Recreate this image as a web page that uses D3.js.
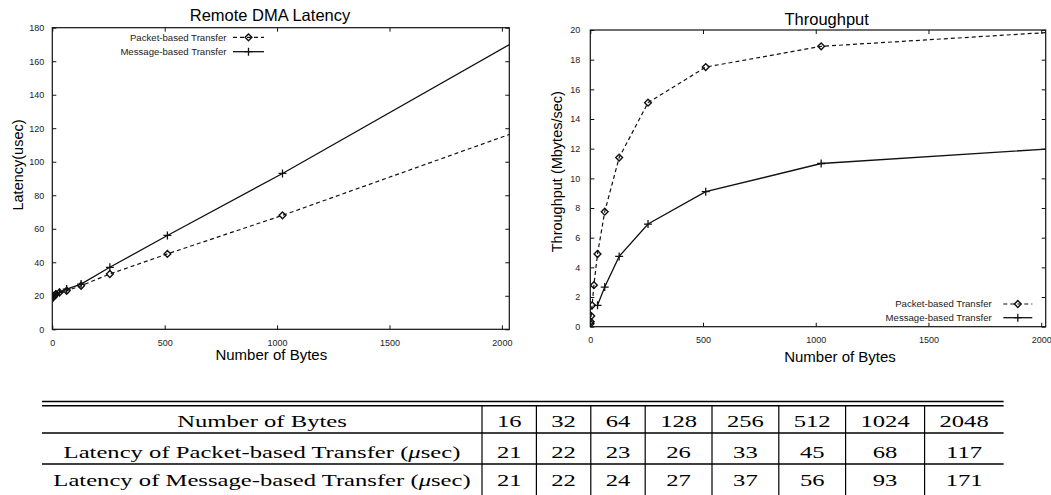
<!DOCTYPE html>
<html><head><meta charset="utf-8">
<script src="https://cdn.jsdelivr.net/npm/d3@7"></script>
<style>
html,body{margin:0;padding:0;background:#fff;}
svg{display:block;}
</style></head>
<body>
<svg id="chart" width="1051" height="495"></svg>
<script>
// ---------- DATA ----------
const seriesNames = ["Packet-based Transfer", "Message-based Transfer"];
const latencyBytes = [4, 8, 16, 32, 64, 128, 256, 512, 1024, 2048];
const latencyPacket = [19, 20, 21, 22, 23, 26, 33, 45, 68, 117];
const latencyMessage = [19, 20, 21, 22, 24, 27, 37, 56, 93, 171];
const thrPacketBytes = [1, 2, 4, 8, 16, 32, 64, 128, 256, 512, 1024, 2048];
const thrPacket = [0.2, 0.34, 0.72, 1.44, 2.8, 4.9, 7.75, 11.4, 15.1, 17.5, 18.9, 19.85];
const thrMessageBytes = [32, 64, 128, 256, 512, 1024, 2048];
const thrMessage = [1.44, 2.67, 4.74, 6.92, 9.1, 11.0, 12.0];
const latencyYTicks = [0, 20, 40, 60, 80, 100, 120, 140, 160, 180];
const thrYTicks = [0, 2, 4, 6, 8, 10, 12, 14, 16, 18, 20];
const xTicks = [0, 500, 1000, 1500, 2000];
const tableHeader = "Number of Bytes";
const tableBytes = [16, 32, 64, 128, 256, 512, 1024, 2048];
const tableRowLabels = ["Latency of Packet-based Transfer (", "Latency of Message-based Transfer ("];
const tablePacket = [21, 22, 23, 26, 33, 45, 68, 117];
const tableMessage = [21, 22, 24, 27, 37, 56, 93, 171];

// ---------- DRAW ----------
const svg = d3.select("#chart");
svg.append("rect").attr("width", 1051).attr("height", 495).attr("fill", "#fff");
const SANS = "'Liberation Sans', Arial, Helvetica, sans-serif";
const SERIF = "'Liberation Serif', 'Times New Roman', Times, serif";
const ink = "#111";

function diamond(g, x, y) {
  const r = 3.4;
  g.append("path").attr("d", `M${x},${y - r}L${x + r},${y}L${x},${y + r}L${x - r},${y}Z`)
    .attr("fill", "none").attr("stroke", ink).attr("stroke-width", 1.4);
}
function cross(g, x, y) {
  const r = 4;
  g.append("path").attr("d", `M${x - r},${y}H${x + r}M${x},${y - r}V${y + r}`)
    .attr("fill", "none").attr("stroke", ink).attr("stroke-width", 1.3);
}

function panel(opt) {
  const g = svg.append("g");
  const x = d3.scaleLinear().domain([0, opt.xMax]).range([opt.left, opt.right]);
  const y = d3.scaleLinear().domain([0, opt.yMax]).range([opt.bottom, opt.top]);
  const id = "clip" + opt.key;
  svg.append("clipPath").attr("id", id).append("rect")
    .attr("x", opt.left).attr("y", opt.top)
    .attr("width", opt.right - opt.left).attr("height", opt.bottom - opt.top);

  const tickFmt = d3.format("d");
  const axB = g.append("g").attr("transform", `translate(0,${opt.bottom})`)
    .call(d3.axisBottom(x).tickValues(xTicks).tickSize(-4).tickPadding(10).tickFormat(tickFmt));
  const axT = g.append("g").attr("transform", `translate(0,${opt.top})`)
    .call(d3.axisTop(x).tickValues(xTicks).tickSize(-4).tickFormat(""));
  const axL = g.append("g").attr("transform", `translate(${opt.left},0)`)
    .call(d3.axisLeft(y).tickValues(opt.yTicks).tickSize(-4).tickPadding(opt.yPad).tickFormat(tickFmt));
  const axR = g.append("g").attr("transform", `translate(${opt.right},0)`)
    .call(d3.axisRight(y).tickValues(opt.yTicks).tickSize(-4).tickFormat(""));
  [axB, axT, axL, axR].forEach(a => {
    a.select(".domain").remove();
    a.selectAll("line").attr("stroke", ink).attr("stroke-width", 1);
    a.selectAll("text").attr("font-family", SANS).attr("font-size", 9).attr("fill", "#222");
  });
  g.append("rect").attr("x", opt.left).attr("y", opt.top)
    .attr("width", opt.right - opt.left).attr("height", opt.bottom - opt.top)
    .attr("fill", "none").attr("stroke", ink).attr("stroke-width", 1.2);

  // title and labels
  g.append("text").attr("x", opt.titleX).attr("y", opt.titleY).attr("text-anchor", "middle")
    .attr("font-family", SANS).attr("font-size", 16.5).attr("fill", "#000").text(opt.title);
  g.append("text").attr("x", opt.xLabelX).attr("y", opt.xLabelY).attr("text-anchor", "middle")
    .attr("font-family", SANS).attr("font-size", 15).attr("fill", "#000").text("Number of Bytes");
  g.append("text").attr("transform", `translate(${opt.yLabelX},${opt.yLabelY}) rotate(-90)`)
    .attr("text-anchor", "middle").attr("dy", "0.35em")
    .attr("font-family", SANS).attr("font-size", 14.5).attr("fill", "#000").text(opt.yLabel);

  const plot = g.append("g").attr("clip-path", `url(#${id})`);
  const line = d3.line().x(d => x(d[0])).y(d => y(d[1]));
  const pk = opt.pBytes.map((b, i) => [b, opt.pVals[i]]);
  const ms = opt.mBytes.map((b, i) => [b, opt.mVals[i]]);
  plot.append("path").attr("d", line(pk)).attr("fill", "none").attr("stroke", ink)
    .attr("stroke-width", 1.2).attr("stroke-dasharray", "4,3");
  plot.append("path").attr("d", line(ms)).attr("fill", "none").attr("stroke", ink)
    .attr("stroke-width", 1.3);
  pk.forEach(d => { if (d[0] <= opt.xMax) diamond(plot, x(d[0]), y(d[1])); });
  ms.forEach(d => { if (d[0] <= opt.xMax) cross(plot, x(d[0]), y(d[1])); });

  // legend
  const lg = g.append("g");
  opt.legend.forEach((L, i) => {
    lg.append("text").attr("x", L.tx).attr("y", L.ty).attr("dy", "0.35em").attr("text-anchor", "end")
      .attr("font-family", SANS).attr("font-size", 9.6).attr("fill", "#222").text(seriesNames[i]);
    lg.append("line").attr("x1", L.x1).attr("x2", L.x2).attr("y1", L.ty).attr("y2", L.ty)
      .attr("stroke", ink).attr("stroke-width", i === 0 ? 1.2 : 1.3)
      .attr("stroke-dasharray", i === 0 ? "4,3" : null);
    if (i === 0) diamond(lg, (L.x1 + L.x2) / 2, L.ty); else cross(lg, (L.x1 + L.x2) / 2, L.ty);
  });
}

panel({
  key: "L", left: 52.3, right: 509.3, top: 27.7, bottom: 329.3, xMax: 2033, yMax: 180,
  yTicks: latencyYTicks, yPad: 8,
  title: "Remote DMA Latency", titleX: 270, titleY: 21,
  xLabelX: 271.3, xLabelY: 360, yLabel: "Latency(usec)", yLabelX: 17.5, yLabelY: 165,
  pBytes: latencyBytes, pVals: latencyPacket, mBytes: latencyBytes, mVals: latencyMessage,
  legend: [{ tx: 226.5, ty: 37.3, x1: 233, x2: 264 }, { tx: 226.5, ty: 51.7, x1: 233, x2: 264 }]
});
panel({
  key: "R", left: 590.3, right: 1045.7, top: 30, bottom: 326.7, xMax: 2020, yMax: 20,
  yTicks: thrYTicks, yPad: 10,
  title: "Throughput", titleX: 826.7, titleY: 25,
  xLabelX: 840, xLabelY: 361.5, yLabel: "Throughput (Mbytes/sec)", yLabelX: 556.7, yLabelY: 171.7,
  pBytes: thrPacketBytes, pVals: thrPacket, mBytes: thrMessageBytes, mVals: thrMessage,
  legend: [{ tx: 991.7, ty: 304, x1: 1003.3, x2: 1032.3 }, { tx: 991.7, ty: 317.7, x1: 1003.3, x2: 1032.3 }]
});

// ---------- TABLE ----------
const tb = svg.append("g");
const tLeft = 42, tRight = 1003.6, tLabelRight = 482;
const sx = 1.4, tFont = 17.6;
const colW = tableBytes.map(b => String(b).length === 2 ? 54.4 : String(b).length === 3 ? 66.8 : 79);
const colEdges = [tLabelRight];
colW.forEach(w => colEdges.push(colEdges[colEdges.length - 1] + w));
const rowBottom = 495;
const baselines = [426.7, 457.5, 486];

tb.append("line").attr("x1", tLeft).attr("x2", tRight).attr("y1", 401.5).attr("y2", 401.5).attr("stroke", "#000").attr("stroke-width", 1.6);
tb.append("line").attr("x1", tLeft).attr("x2", tRight).attr("y1", 405.7).attr("y2", 405.7).attr("stroke", "#000").attr("stroke-width", 1.6);
[433, 464].forEach(yy => tb.append("line").attr("x1", tLeft).attr("x2", tRight).attr("y1", yy).attr("y2", yy).attr("stroke", "#000").attr("stroke-width", 1.6));
colEdges.slice(0, colEdges.length - 1).forEach(xx => tb.append("line").attr("x1", xx).attr("x2", xx)
  .attr("y1", 405.7).attr("y2", rowBottom).attr("stroke", "#000").attr("stroke-width", 1.2));

function cellText(cx, by, parts) {
  const t = tb.append("text").attr("transform", `translate(${cx},${by}) scale(${sx},1)`)
    .attr("text-anchor", "middle").attr("font-family", SERIF).attr("font-size", tFont).attr("fill", "#000");
  parts.forEach(p => {
    const ts = t.append("tspan").text(p.t);
    if (p.i) ts.attr("font-style", "italic");
  });
}
const labelCx = (tLeft + tLabelRight) / 2;
cellText(labelCx, baselines[0], [{ t: tableHeader }]);
cellText(labelCx, baselines[1], [{ t: tableRowLabels[0] }, { t: "\u03bc", i: true }, { t: "sec)" }]);
cellText(labelCx, baselines[2], [{ t: tableRowLabels[1] }, { t: "\u03bc", i: true }, { t: "sec)" }]);
const rows = [tableBytes, tablePacket, tableMessage];
rows.forEach((r, ri) => r.forEach((v, ci) => {
  cellText((colEdges[ci] + colEdges[ci + 1]) / 2, baselines[ri], [{ t: String(v) }]);
}));
</script>
</body></html>
